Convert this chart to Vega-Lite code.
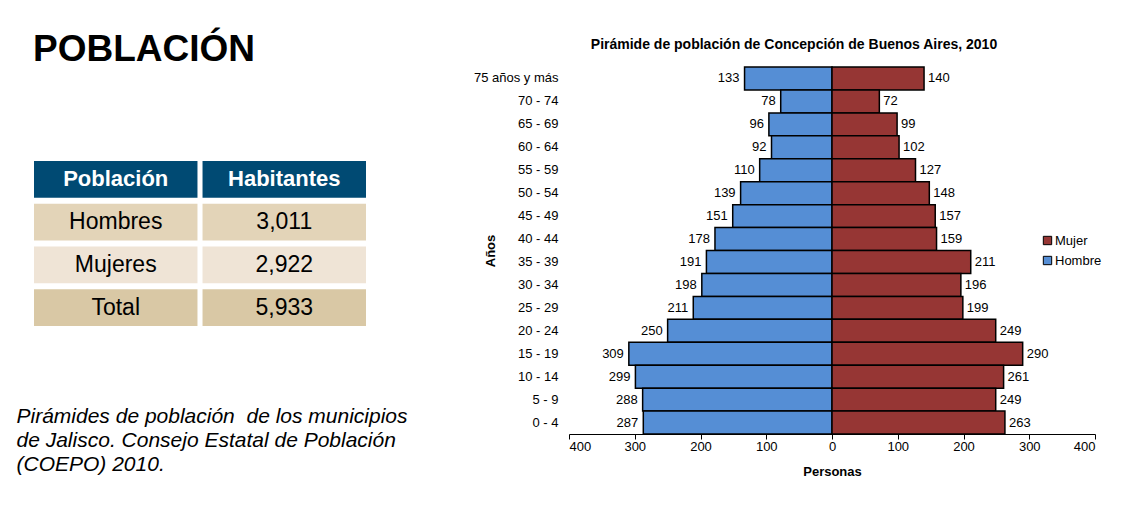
{
  "$schema": "https://vega.github.io/schema/vega-lite/v6.json",
  "background": "white",
  "padding": {"left": 16, "top": 31, "right": 5, "bottom": 5},
  "bounds": "flush",
  "center": true,
  "spacing": 203,
  "config": {"font": "Liberation Sans", "view": {"stroke": null}},
  "resolve": {"scale": {"color": "independent"}, "legend": {"color": "independent"}},
  "hconcat": [
    {
      "width": 332,
      "height": 179,
      "title": {"text": "POBLACIÓN", "anchor": "start", "frame": "group", "dx": -1, "fontSize": 37, "fontWeight": "bold", "color": "black", "offset": 92},
      "data": {"values": [
        {"fila": "Población", "columna": "Población", "texto": "Población", "tipo": "encabezado"},
        {"fila": "Población", "columna": "Habitantes", "texto": "Habitantes", "tipo": "encabezado"},
        {"fila": "Hombres", "columna": "Población", "texto": "Hombres", "tipo": "Hombres"},
        {"fila": "Hombres", "columna": "Habitantes", "texto": "3,011", "tipo": "Hombres"},
        {"fila": "Mujeres", "columna": "Población", "texto": "Mujeres", "tipo": "Mujeres"},
        {"fila": "Mujeres", "columna": "Habitantes", "texto": "2,922", "tipo": "Mujeres"},
        {"fila": "Total", "columna": "Población", "texto": "Total", "tipo": "Total"},
        {"fila": "Total", "columna": "Habitantes", "texto": "5,933", "tipo": "Total"}
      ]},
      "encoding": {
        "x": {"field": "columna", "type": "nominal", "sort": ["Población", "Habitantes"],
          "scale": {"paddingInner": 0.03, "paddingOuter": 0},
          "axis": {"orient": "bottom", "labels": false, "ticks": false, "domain": false,
            "title": ["Pirámides de población \u00a0de los municipios", "de Jalisco. Consejo Estatal de Población", "(COEPO) 2010."],
            "titleFontSize": 21, "titleFontStyle": "italic", "titleFontWeight": "normal", "titleColor": "black",
            "titleX": -18, "titleY": 82, "titleAlign": "left", "titleAnchor": "start", "titleBaseline": "alphabetic", "titleLineHeight": 24}},
        "y": {"field": "fila", "type": "nominal", "sort": ["Población", "Hombres", "Mujeres", "Total"],
          "scale": {"paddingInner": 0.14, "paddingOuter": 0.1636, "align": 0}, "axis": null}
      },
      "layer": [
        {"mark": {"type": "rect"},
         "encoding": {"color": {"field": "tipo", "type": "nominal",
           "scale": {"domain": ["encabezado", "Hombres", "Mujeres", "Total"], "range": ["#004A73", "#E3D4B8", "#EFE4D6", "#D9C8A5"]}, "legend": null}}},
        {"transform": [{"filter": "datum.tipo === 'encabezado'"}],
         "mark": {"type": "text", "fontSize": 22, "fontWeight": "bold", "color": "white"},
         "encoding": {"text": {"field": "texto"}}},
        {"transform": [{"filter": "datum.tipo !== 'encabezado'"}],
         "mark": {"type": "text", "fontSize": 23, "color": "black"},
         "encoding": {"text": {"field": "texto"}}}
      ]
    },
    {
      "width": 526,
      "height": 367,
      "title": {"text": "Pirámide de población de Concepción de Buenos Aires, 2010", "fontSize": 14, "fontWeight": "bold", "color": "black", "anchor": "middle", "dx": -38, "offset": 14},
      "data": {"values": [
        {"edad": "75 años y más", "sexo": "Hombre", "personas": -133},
        {"edad": "75 años y más", "sexo": "Mujer", "personas": 140},
        {"edad": "70 - 74", "sexo": "Hombre", "personas": -78},
        {"edad": "70 - 74", "sexo": "Mujer", "personas": 72},
        {"edad": "65 - 69", "sexo": "Hombre", "personas": -96},
        {"edad": "65 - 69", "sexo": "Mujer", "personas": 99},
        {"edad": "60 - 64", "sexo": "Hombre", "personas": -92},
        {"edad": "60 - 64", "sexo": "Mujer", "personas": 102},
        {"edad": "55 - 59", "sexo": "Hombre", "personas": -110},
        {"edad": "55 - 59", "sexo": "Mujer", "personas": 127},
        {"edad": "50 - 54", "sexo": "Hombre", "personas": -139},
        {"edad": "50 - 54", "sexo": "Mujer", "personas": 148},
        {"edad": "45 - 49", "sexo": "Hombre", "personas": -151},
        {"edad": "45 - 49", "sexo": "Mujer", "personas": 157},
        {"edad": "40 - 44", "sexo": "Hombre", "personas": -178},
        {"edad": "40 - 44", "sexo": "Mujer", "personas": 159},
        {"edad": "35 - 39", "sexo": "Hombre", "personas": -191},
        {"edad": "35 - 39", "sexo": "Mujer", "personas": 211},
        {"edad": "30 - 34", "sexo": "Hombre", "personas": -198},
        {"edad": "30 - 34", "sexo": "Mujer", "personas": 196},
        {"edad": "25 - 29", "sexo": "Hombre", "personas": -211},
        {"edad": "25 - 29", "sexo": "Mujer", "personas": 199},
        {"edad": "20 - 24", "sexo": "Hombre", "personas": -250},
        {"edad": "20 - 24", "sexo": "Mujer", "personas": 249},
        {"edad": "15 - 19", "sexo": "Hombre", "personas": -309},
        {"edad": "15 - 19", "sexo": "Mujer", "personas": 290},
        {"edad": "10 - 14", "sexo": "Hombre", "personas": -299},
        {"edad": "10 - 14", "sexo": "Mujer", "personas": 261},
        {"edad": "5 - 9", "sexo": "Hombre", "personas": -288},
        {"edad": "5 - 9", "sexo": "Mujer", "personas": 249},
        {"edad": "0 - 4", "sexo": "Hombre", "personas": -287},
        {"edad": "0 - 4", "sexo": "Mujer", "personas": 263}
      ]},
      "encoding": {
        "y": {"field": "edad", "type": "nominal",
          "sort": ["75 años y más", "70 - 74", "65 - 69", "60 - 64", "55 - 59", "50 - 54", "45 - 49", "40 - 44", "35 - 39", "30 - 34", "25 - 29", "20 - 24", "15 - 19", "10 - 14", "5 - 9", "0 - 4"],
          "scale": {"paddingInner": 0, "paddingOuter": 0},
          "axis": {"title": "Años", "titleFontSize": 13, "titleFontWeight": "bold", "titleColor": "black", "titleX": -79, "titleBaseline": "middle",
            "domain": false, "ticks": false, "labelFontSize": 13, "labelColor": "black", "labelPadding": 11}},
        "x": {"field": "personas", "type": "quantitative",
          "scale": {"domain": [-400, 400], "nice": false},
          "axis": {"values": [-400, -300, -200, -100, 0, 100, 200, 300, 400], "labelExpr": "abs(datum.value)",
            "title": "Personas", "titleFontSize": 13, "titleFontWeight": "bold", "titleColor": "black", "titlePadding": 12,
            "grid": false, "domainColor": "black", "tickColor": "black", "tickSize": 5, "labelFontSize": 13, "labelColor": "black", "labelPadding": 1}}
      },
      "layer": [
        {"mark": {"type": "bar", "stroke": "black", "strokeWidth": 1.5},
         "encoding": {"color": {"field": "sexo", "type": "nominal",
           "scale": {"domain": ["Mujer", "Hombre"], "range": ["#963634", "#558ED5"]},
           "legend": {"title": null, "orient": "none", "legendX": 472, "legendY": 167, "symbolType": "square", "symbolSize": 70,
             "symbolStrokeColor": "black", "symbolStrokeWidth": 1, "labelFontSize": 13, "labelColor": "black", "rowPadding": 6, "labelOffset": 1}}}},
        {"transform": [{"filter": "datum.sexo === 'Hombre'"}, {"calculate": "abs(datum.personas)", "as": "etiqueta"}],
         "mark": {"type": "text", "align": "right", "dx": -5, "fontSize": 13, "color": "black"},
         "encoding": {"text": {"field": "etiqueta", "type": "quantitative", "format": "d"}}},
        {"transform": [{"filter": "datum.sexo === 'Mujer'"}],
         "mark": {"type": "text", "align": "left", "dx": 4, "fontSize": 13, "color": "black"},
         "encoding": {"text": {"field": "personas", "type": "quantitative", "format": "d"}}}
      ]
    }
  ]
}
